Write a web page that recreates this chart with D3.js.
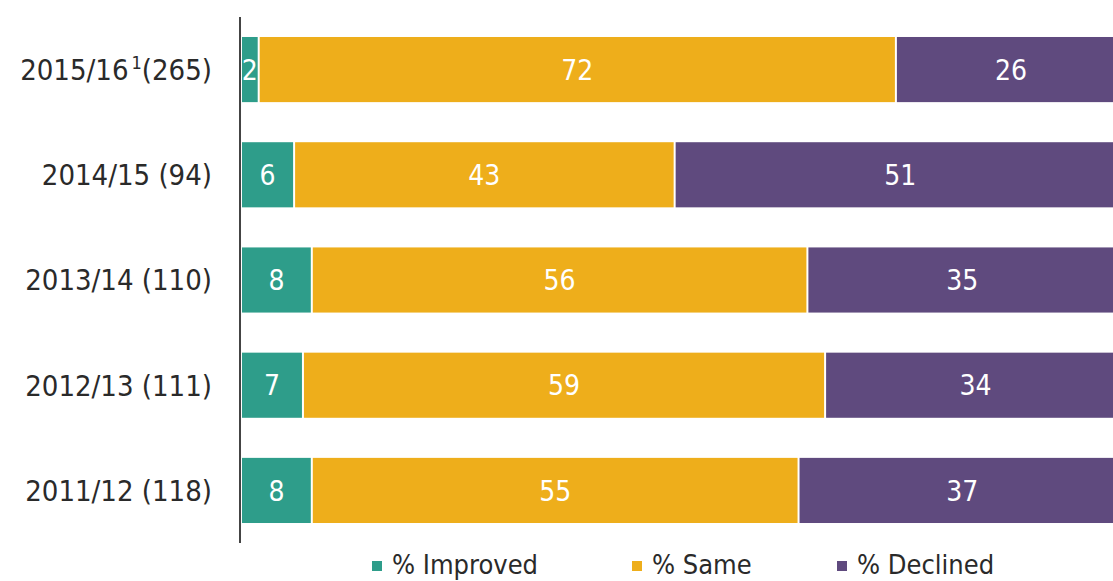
<!DOCTYPE html>
<html>
<head>
<meta charset="utf-8">
<script src="https://cdn.jsdelivr.net/npm/d3@7"></script>
<style>
  body { margin: 0; background: #fff; }
  text { font-family: "DejaVu Sans Condensed", "DejaVu Sans", sans-serif; }
</style>
</head>
<body>
<div id="chart"></div>
<script>
// categories, top to bottom
var years   = ["2015/16", "2014/15", "2013/14", "2012/13", "2011/12"];
var counts  = [265, 94, 110, 111, 118];
var footnote = ["1", "", "", "", ""];

// series values (%)
var improved = [2, 6, 8, 7, 8];
var same     = [72, 43, 56, 59, 55];
var declined = [26, 51, 35, 34, 37];

var seriesNames  = ["% Improved", "% Same", "% Declined"];
var seriesColors = ["#2e9d8a", "#eeae1b", "#5f4a7e"];

var width = 1113, height = 581;

var svg = d3.select("#chart").append("svg")
    .attr("width", width)
    .attr("height", height);

var data = years.map(function(y, i) {
  return { year: y, n: counts[i], note: footnote[i],
           improved: improved[i], same: same[i], declined: declined[i] };
});

var keys = ["improved", "same", "declined"];
var stack = d3.stack().keys(keys);
var layers = stack(data);

// set the ranges (bars run past the right edge, as in the picture)
var x = d3.scaleLinear().domain([0, 100]).range([241, 1126]);
var y = d3.scaleBand()
    .domain(years)
    .range([17, 543])
    .paddingInner(0.381)
    .paddingOuter(0.19);

// bars
var g = svg.append("g");
layers.forEach(function(layer, k) {
  g.selectAll(null)
    .data(layer)
    .enter().append("rect")
    .attr("x", function(d) { return x(d[0]) + 1; })
    .attr("y", function(d) { return y(d.data.year); })
    .attr("width", function(d) { return Math.max(0, x(d[1]) - x(d[0]) - 2); })
    .attr("height", y.bandwidth())
    .attr("fill", seriesColors[k]);

  g.selectAll(null)
    .data(layer)
    .enter().append("text")
    .attr("x", function(d) { return (x(d[0]) + x(d[1])) / 2; })
    .attr("y", function(d) { return y(d.data.year) + y.bandwidth() / 2; })
    .attr("dy", "0.36em")
    .attr("text-anchor", "middle")
    .attr("fill", "#fff")
    .style("font-size", "28px")
    .text(function(d) { return d.data[keys[k]]; });
});

// y axis line
svg.append("line")
  .attr("x1", 240).attr("x2", 240)
  .attr("y1", y.range()[0]).attr("y2", y.range()[1])
  .attr("stroke", "#444")
  .attr("stroke-width", 2);

// category labels
var lab = svg.selectAll(".ylab")
  .data(data)
  .enter().append("text")
  .attr("class", "ylab")
  .attr("x", 212)
  .attr("y", function(d) { return y(d.year) + y.bandwidth() / 2; })
  .attr("dy", "0.36em")
  .attr("text-anchor", "end")
  .attr("fill", "#2a2a2a")
  .style("font-size", "29px");

lab.append("tspan").text(function(d) { return d.year; });
lab.append("tspan")
  .attr("dy", function(d) { return d.note ? -11 : null; })
  .attr("dx", 3)
  .style("font-size", "18px")
  .text(function(d) { return d.note; });
lab.append("tspan")
  .attr("dy", function(d) { return d.note ? 11 : null; })
  .text(function(d) { return (d.note ? "" : " ") + "(" + d.n + ")"; });

// legend
var legendX = [372, 632, 837];
var legend = svg.selectAll(".leg")
  .data(seriesNames)
  .enter().append("g")
  .attr("class", "leg")
  .attr("transform", function(d, i) { return "translate(" + legendX[i] + ",0)"; });

legend.append("rect")
  .attr("x", 0).attr("y", 561)
  .attr("width", 10).attr("height", 10)
  .attr("fill", function(d, i) { return seriesColors[i]; });

legend.append("text")
  .attr("x", 20).attr("y", 574)
  .attr("fill", "#2a2a2a")
  .style("font-size", "27px")
  .text(function(d) { return d; });
</script>
</body>
</html>
